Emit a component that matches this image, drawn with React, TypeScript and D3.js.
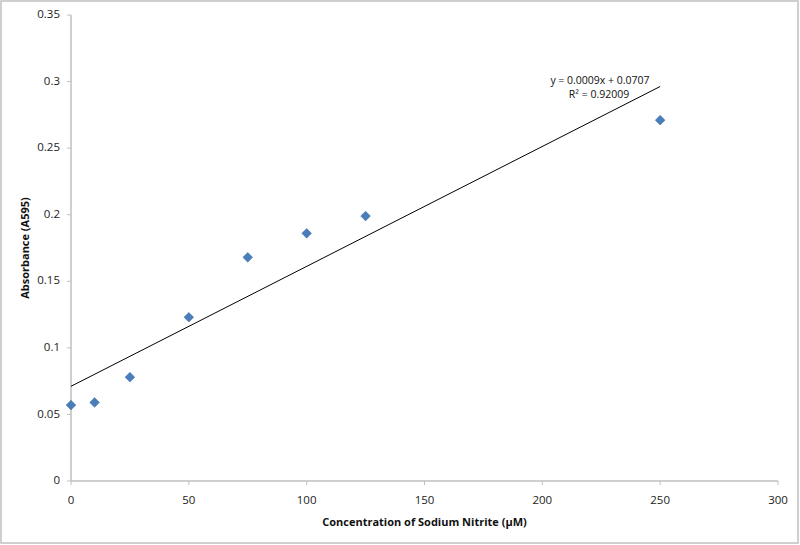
import * as d3 from "d3";

const concentrations = [0, 10, 25, 50, 75, 100, 125, 250];
const absorbances = [0.057, 0.059, 0.078, 0.123, 0.168, 0.186, 0.199, 0.271];
const xTicks = [0, 50, 100, 150, 200, 250, 300];
const yTicks = [0, 0.05, 0.1, 0.15, 0.2, 0.25, 0.3, 0.35];
const equationLabel = "y = 0.0009x + 0.0707";
const r2Label = "R² = 0.92009";

export default function App() {
    const width = 800;
    const height = 545;
    const margin = { top: 15, right: 22, bottom: 64, left: 71 };
    const font = "'Open Sans', 'Liberation Sans', sans-serif";
    const axisColor = "#bfbfbf";

    const xScale = d3
        .scaleLinear()
        .domain([0, 300])
        .range([margin.left, width - margin.right]);

    const yScale = d3
        .scaleLinear()
        .domain([0, 0.35])
        .range([height - margin.bottom, margin.top]);

    // least squares trendline from the data
    const xMean = d3.mean(concentrations) ?? 0;
    const yMean = d3.mean(absorbances) ?? 0;
    const sxy = d3.sum(concentrations, (x, i) => (x - xMean) * (absorbances[i] - yMean));
    const sxx = d3.sum(concentrations, (x) => (x - xMean) ** 2);
    const slope = sxy / sxx;
    const intercept = yMean - slope * xMean;
    const xMax = d3.max(concentrations) ?? 0;

    const diamond = d3.symbol().type(d3.symbolDiamond2).size(60);
    const x0 = xScale(0);
    const y0 = yScale(0);

    return (
        <svg
            width={width}
            height={height}
            style={{ position: "absolute", top: 0, left: 0, background: "#fff" }}
            fontFamily={font}
        >
            <rect x={1} y={1} width={797} height={542} fill="#fff" stroke="#c0c0c0" strokeWidth={1.5} />

            <line x1={x0} x2={x0} y1={yScale(0.35)} y2={y0} stroke={axisColor} strokeWidth={1.5} />
            <line x1={x0} x2={xScale(300)} y1={y0} y2={y0} stroke={axisColor} strokeWidth={1.5} />

            {yTicks.map((t) => (
                <g key={t}>
                    <line x1={x0 - 4} x2={x0} y1={yScale(t)} y2={yScale(t)} stroke={axisColor} />
                    <text
                        x={x0 - 11}
                        y={yScale(t)}
                        textAnchor="end"
                        dominantBaseline="middle"
                        fontSize="11.5"
                        fill="#222"
                    >
                        {t}
                    </text>
                </g>
            ))}

            {xTicks.map((t) => (
                <g key={t}>
                    <line x1={xScale(t)} x2={xScale(t)} y1={y0} y2={y0 + 4} stroke={axisColor} />
                    <text
                        x={xScale(t)}
                        y={y0 + 20}
                        textAnchor="middle"
                        dominantBaseline="middle"
                        fontSize="11.5"
                        fill="#222"
                    >
                        {t}
                    </text>
                </g>
            ))}

            <line
                x1={xScale(0)}
                y1={yScale(intercept)}
                x2={xScale(xMax)}
                y2={yScale(intercept + slope * xMax)}
                stroke="#000"
                strokeWidth={1}
            />

            {concentrations.map((c, i) => (
                <path
                    key={c}
                    d={diamond() ?? ""}
                    transform={`translate(${xScale(c)},${yScale(absorbances[i])})`}
                    fill="#4a7ebb"
                    stroke="#3d6ca6"
                    strokeWidth={0.5}
                />
            ))}

            <text x={600} y={84} textAnchor="middle" fontSize="10.5" fill="#111">
                {equationLabel}
            </text>
            <text x={599} y={98} textAnchor="middle" fontSize="10.5" fill="#111">
                {r2Label}
            </text>

            <text
                transform={`translate(29, ${(margin.top + y0) / 2}) rotate(-90)`}
                textAnchor="middle"
                fontSize="11"
                fontWeight="bold"
                fill="#111"
            >
                Absorbance (A595)
            </text>
            <text
                x={(x0 + xScale(300)) / 2}
                y={526}
                textAnchor="middle"
                fontSize="11"
                fontWeight="bold"
                fill="#111"
            >
                Concentration of Sodium Nitrite (µM)
            </text>
        </svg>
    );
}
